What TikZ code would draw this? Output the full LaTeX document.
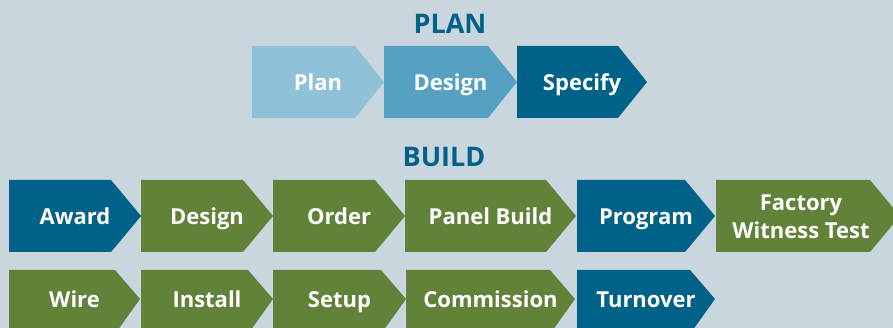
\documentclass[tikz,border=0pt]{standalone}
\usepackage{fontspec}
\setmainfont{Open Sans}

\definecolor{bgcol}{RGB}{201,214,222}
\definecolor{planlight}{RGB}{143,193,216}
\definecolor{planmid}{RGB}{86,161,193}
\definecolor{darkblue}{RGB}{0,98,136}
\definecolor{buildgreen}{RGB}{98,130,58}

\tikzset{
  steptext/.style={text=white, anchor=base, align=center,
    font=\bfseries\fontsize{22}{28}\selectfont},
  heading/.style={text=darkblue, font=\bfseries\fontsize{27}{32}\selectfont}
}

\begin{document}
\begin{tikzpicture}[x=1pt,y=-1pt]
        \clip (0,0) rectangle (893,328);
        \fill[bgcol] (0,0) rectangle (893,328);

        \node[heading] (plantitle) at (450,24) {PLAN};
        \node[heading] (buildtitle) at (444,157) {BUILD};

        % plan row
        \foreach \n/\l/\t/\c/\s in {plan/252/384/planlight/Plan, plandesign/384/517/planmid/Design,
            specify/517/647/darkblue/Specify} {
          \fill[\c] (\l,46) -- ({\t-29},46) -- (\t,82) -- ({\t-29},118) -- (\l,118) -- cycle;
          \node[steptext] (\n) at ({(\l+\t)/2},91) {\s};
        }

        % build row one
        \foreach \n/\l/\t/\c/\s in {award/9/141/darkblue/Award, design/141/273/buildgreen/Design,
            order/273/405/buildgreen/Order, panelbuild/405/576/buildgreen/Panel Build,
            program/577/715/darkblue/Program} {
          \fill[\c] (\l,180) -- ({\t-30},180) -- (\t,216) -- ({\t-30},252) -- (\l,252) -- cycle;
          \node[steptext] (\n) at ({(\l+\t)/2},225) {\s};
        }
        \fill[buildgreen] (716,180) -- (870,180) -- (900,216) -- (870,252) -- (716,252) -- cycle;
        \node[steptext, anchor=center] (fwt) at (801,217) {Factory\\Witness Test};

        % build row two
        \foreach \n/\l/\t/\c/\s in {wire/9/140/buildgreen/Wire, install/141/273/buildgreen/Install,
            setup/273/406/buildgreen/Setup, commission/406/575/buildgreen/Commission,
            turnover/577/715/darkblue/Turnover} {
          \fill[\c] (\l,270) -- ({\t-25},270) -- (\t,299) -- ({\t-25},334) -- (\l,334) -- cycle;
          \node[steptext] (\n) at ({(\l+\t)/2},308) {\s};
        }
\end{tikzpicture}
\end{document}
